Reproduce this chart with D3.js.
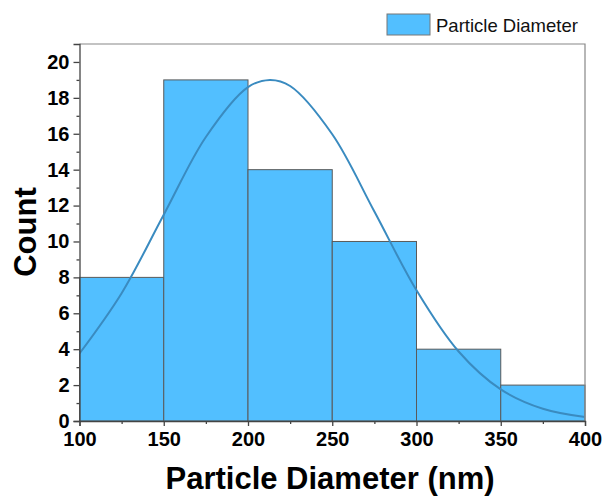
<!DOCTYPE html>
<html>
<head>
<meta charset="utf-8">
<script src="https://cdn.jsdelivr.net/npm/d3@7"></script>
<style>
  body { margin: 0; background: #fff; }
  text { font-family: "Liberation Sans", Arial, sans-serif; }
</style>
</head>
<body>
<div id="chart"></div>
<script>
// Histogram bins (nm) and counts
var binStarts = [100, 150, 200, 250, 300, 350];
var binEnds = [150, 200, 250, 300, 350, 400];
var counts = [8, 19, 14, 10, 4, 2];

// Normal fit curve
var curveX = [100, 125, 150, 175, 200, 213, 225, 250, 275, 300, 325, 350, 375, 400];
var curveY = [3.76, 7.12, 11.49, 15.82, 18.6, 19.0, 18.66, 15.97, 11.67, 7.28, 3.87, 1.76, 0.68, 0.22];

// Tick values
var xTicks = [100, 150, 200, 250, 300, 350, 400];
var xMinor = [125, 175, 225, 275, 325, 375];
var yTicks = [0, 2, 4, 6, 8, 10, 12, 14, 16, 18, 20];
var yMinor = [1, 3, 5, 7, 9, 11, 13, 15, 17, 19];

var W = 606, H = 497;
var margin = { top: 44, right: 21, bottom: 76, left: 79.5 };

var svg = d3.select("#chart").append("svg")
  .attr("width", W)
  .attr("height", H);

var x = d3.scaleLinear().domain([100, 400]).range([margin.left, W - margin.right]);
var y = d3.scaleLinear().domain([0, 21]).range([H - margin.bottom, margin.top]);

// Bars
svg.selectAll(".bar")
  .data(counts)
  .enter()
  .append("rect")
  .attr("class", "bar")
  .attr("x", function (d, i) { return x(binStarts[i]); })
  .attr("width", function (d, i) { return x(binEnds[i]) - x(binStarts[i]); })
  .attr("y", function (d) { return y(d); })
  .attr("height", function (d) { return y(0) - y(d); })
  .attr("fill", "#52BFFF")
  .attr("stroke", "#5a5a5a")
  .attr("stroke-width", 1);

// Fit curve
var line = d3.line()
  .x(function (d, i) { return x(curveX[i]); })
  .y(function (d) { return y(d); })
  .curve(d3.curveCatmullRom);

svg.append("path")
  .datum(curveY)
  .attr("d", line)
  .attr("fill", "none")
  .attr("stroke", "#3A8BC0")
  .attr("stroke-width", 2);

// Frame (top and right)
svg.append("path")
  .attr("d", "M" + x(100) + "," + y(21) + "H" + x(400) + "V" + y(0))
  .attr("fill", "none")
  .attr("stroke", "#888")
  .attr("stroke-width", 1.2);

// Bottom axis
svg.append("g")
  .attr("transform", "translate(0," + y(0) + ")")
  .call(d3.axisBottom(x).tickValues(xTicks).tickSize(5).tickPadding(6).tickFormat(d3.format("d")));
svg.append("g")
  .attr("transform", "translate(0," + y(0) + ")")
  .call(d3.axisBottom(x).tickValues(xMinor).tickSize(3).tickFormat(""))
  .select(".domain").remove();

// Left axis
svg.append("g")
  .attr("transform", "translate(" + x(100) + ",0)")
  .call(d3.axisLeft(y).tickValues(yTicks).tickSize(6).tickPadding(4).tickFormat(d3.format("d")));
svg.append("g")
  .attr("transform", "translate(" + x(100) + ",0)")
  .call(d3.axisLeft(y).tickValues(yMinor).tickSize(3).tickFormat(""))
  .select(".domain").remove();

svg.selectAll(".domain, .tick line")
  .attr("stroke", "#444")
  .attr("stroke-width", 1.3);

svg.selectAll(".tick text")
  .style("font-size", "20px")
  .style("font-weight", "bold")
  .attr("fill", "#000");

// Axis titles
svg.append("text")
  .attr("x", 330)
  .attr("y", 489)
  .attr("text-anchor", "middle")
  .style("font-size", "31px")
  .style("font-weight", "bold")
  .text("Particle Diameter (nm)");

svg.append("text")
  .attr("transform", "translate(36,232) rotate(-90)")
  .attr("text-anchor", "middle")
  .style("font-size", "31px")
  .style("font-weight", "bold")
  .text("Count");

// Legend
svg.append("rect")
  .attr("x", 387)
  .attr("y", 14)
  .attr("width", 43)
  .attr("height", 21)
  .attr("fill", "#52BFFF")
  .attr("stroke", "#777")
  .attr("stroke-width", 1);

svg.append("text")
  .attr("x", 436)
  .attr("y", 31.5)
  .style("font-size", "18.5px")
  .attr("fill", "#111")
  .text("Particle Diameter");
</script>
</body>
</html>
